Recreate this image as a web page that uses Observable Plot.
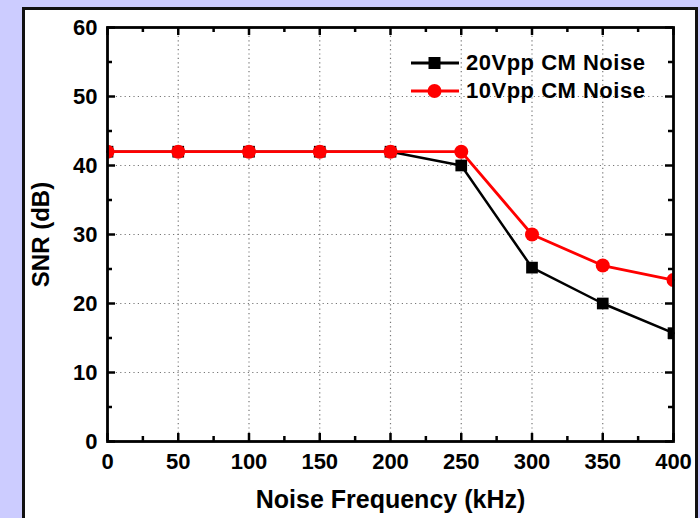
<!DOCTYPE html>
<html><head><meta charset="utf-8">
<script src="https://cdn.jsdelivr.net/npm/d3@7"></script>
<script src="https://cdn.jsdelivr.net/npm/@observablehq/plot@0.6"></script>
<style>
body{margin:0;background:#ccccff;width:700px;height:518px;overflow:hidden;position:relative;font-family:"Liberation Sans",Arial,sans-serif;}
#panel{position:absolute;left:22px;top:7px;width:676px;height:530px;background:#fff;border:3px solid #111;box-sizing:border-box;}
#chart{position:absolute;left:0;top:0;}
#legend{position:absolute;left:410px;top:49px;font-weight:bold;font-size:22px;letter-spacing:0.5px;color:#000;}
.row{display:flex;align-items:center;height:28px;}
.row svg{margin-right:6px;}
g[aria-label="x-axis label"] text{font-size:25px;}
g[aria-label="y-axis label"] text{font-size:24px;}
</style></head>
<body>
<div id="panel"></div>
<div id="chart"></div>
<div id="legend"></div>
<script>
const freq = [0, 50, 100, 150, 200, 250, 300, 350, 400];
const snr20 = [42, 42, 42, 42, 42, 40, 25.2, 20, 15.7];
const snr10 = [42, 42, 42, 42, 42, 42, 30, 25.5, 23.4];
const seriesNames = ["20Vpp CM Noise", "10Vpp CM Noise"];
const seriesColors = ["#000000", "#ff0000"];
const xMajor = [0, 50, 100, 150, 200, 250, 300, 350, 400];
const xMinor = [25, 75, 125, 175, 225, 275, 325, 375];
const yMajor = [0, 10, 20, 30, 40, 50, 60];
const yMinor = [5, 15, 25, 35, 45, 55];
const xGrid = [50, 100, 150, 200, 250, 300, 350];
const yGrid = [10, 20, 30, 40, 50];

const d20 = freq.map((f, i) => ({f, v: snr20[i]}));
const d10 = freq.map((f, i) => ({f, v: snr10[i]}));

const W = 700, H = 518, ML = 107, MR = 27, MT = 27, MB = 77;
const pw = W - ML - MR, ph = H - MT - MB;
const MAJ = 8, MIN = 5;
const grid = {stroke: "#777", strokeWidth: 1.2, strokeDasharray: "1.2,3.2", strokeOpacity: 1};
const tk = {stroke: "#000", strokeWidth: 2.5};

const chart = Plot.plot({
  width: W, height: H,
  marginLeft: ML, marginRight: MR, marginTop: MT, marginBottom: MB,
  style: {background: "transparent", fontFamily: "'Liberation Sans', Arial, sans-serif", fontWeight: "bold", color: "#000", overflow: "visible"},
  x: {domain: [0, 400]},
  y: {domain: [0, 60]},
  marks: [
    Plot.ruleX(xGrid, {...grid}),
    Plot.ruleY(yGrid, {...grid}),
    Plot.axisX(xMajor, {tickSize: 0, tickPadding: 12, fontSize: 22, fontWeight: "bold", label: "Noise Frequency (kHz)", labelAnchor: "center", labelOffset: 66, labelArrow: "none"}),
    Plot.axisY(yMajor, {tickSize: 0, tickPadding: 10, fontSize: 22, fontWeight: "bold", label: "SNR (dB)", labelAnchor: "center", labelOffset: 76, labelArrow: "none"}),
    Plot.tickX(xMajor, {...tk, insetTop: ph - MAJ}),
    Plot.tickX(xMinor, {...tk, insetTop: ph - MIN}),
    Plot.tickX(xMajor, {...tk, insetBottom: ph - MAJ}),
    Plot.tickX(xMinor, {...tk, insetBottom: ph - MIN}),
    Plot.tickY(yMajor, {...tk, insetRight: pw - MAJ}),
    Plot.tickY(yMinor, {...tk, insetRight: pw - MIN}),
    Plot.tickY(yMajor, {...tk, insetLeft: pw - MAJ}),
    Plot.tickY(yMinor, {...tk, insetLeft: pw - MIN}),
    Plot.line(d20, {x: "f", y: "v", stroke: seriesColors[0], strokeWidth: 2.5}),
    Plot.dot(d20, {x: "f", y: "v", symbol: "square", r: 6.6, fill: seriesColors[0], stroke: "none", clip: "frame"}),
    Plot.line(d10, {x: "f", y: "v", stroke: seriesColors[1], strokeWidth: 2.8}),
    Plot.dot(d10, {x: "f", y: "v", symbol: "circle", r: 7, fill: seriesColors[1], stroke: "none", clip: "frame"}),
    Plot.frame({stroke: "#000", strokeWidth: 2.8})
  ]
});
chart.querySelectorAll("text").forEach(t => t.setAttribute("font-weight", "bold"));
document.getElementById("chart").appendChild(chart);

const leg = document.getElementById("legend");
seriesNames.forEach((name, i) => {
  const row = document.createElement("div");
  row.className = "row";
  const sym = i === 0
    ? `<rect x="18.5" y="8" width="12" height="12" fill="${seriesColors[i]}"/>`
    : `<circle cx="24.5" cy="14" r="7" fill="${seriesColors[i]}"/>`;
  row.innerHTML = `<svg width="50" height="28"><line x1="1" x2="49" y1="14" y2="14" stroke="${seriesColors[i]}" stroke-width="2.8"/>${sym}</svg><span>${name}</span>`;
  leg.appendChild(row);
});
</script>
</body></html>
